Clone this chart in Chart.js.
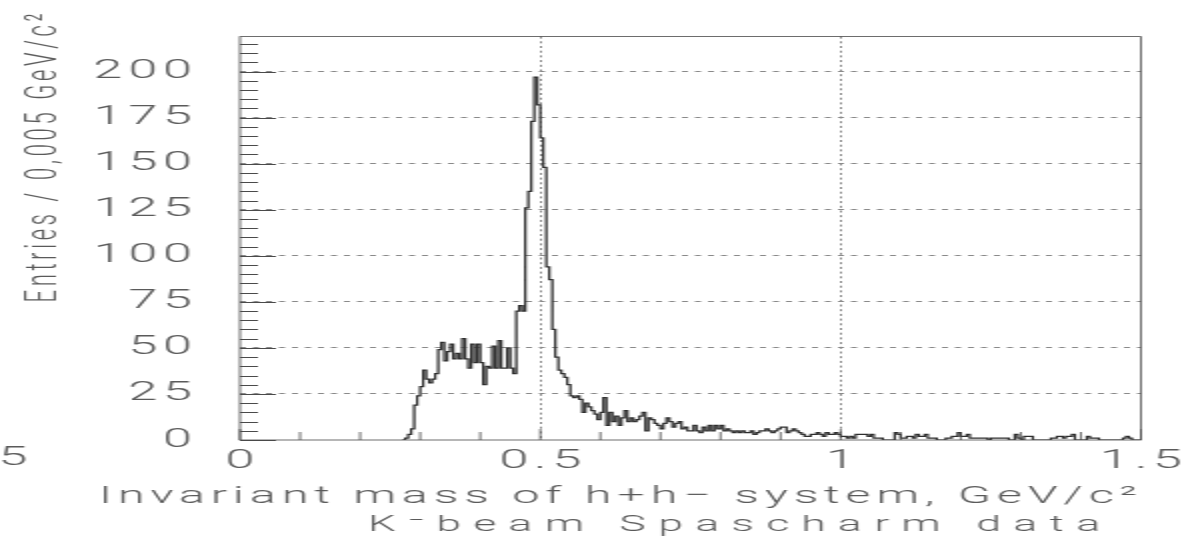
<!DOCTYPE html>
<html>
<head>
<meta charset="utf-8">
<title>Invariant mass of h+h- system</title>
<script src="https://cdn.jsdelivr.net/npm/chart.js@4.4.1/dist/chart.umd.min.js"></script>
<style>
  html, body { margin: 0; padding: 0; background: #ffffff; overflow: hidden; }
  canvas { display: block; }
</style>
</head>
<body>
<!-- drawn at half width and shown twice as wide, which gives the wide PAW-style lettering -->
<canvas id="c" width="599" height="539" style="width:1198px;height:539px"></canvas>
<script>
// ---- histogram data: entries per 0.005 GeV/c^2 bin ----
const binWidth = 0.005;
const firstBinLow = 0.27;          // low edge of the first listed bin; everything below is empty
const counts = [
  0, 1, 3, 6, 19, 24, 29, 38, 33, 31, 33,
  36, 49, 53, 43, 48, 52, 44, 47, 44, 55,
  44, 39, 52, 42, 52, 42, 30, 40, 39, 51,
  39, 54, 39, 39, 50, 39, 36, 70, 73, 70,
  126, 135, 173, 197, 182, 164, 148, 94, 87, 60,
  45, 38, 36, 34, 30, 24, 23, 24, 22, 15,
  20, 18, 16, 14, 11, 15, 23, 8, 15, 10,
  13, 8, 12, 16, 10, 12, 10, 11, 13, 15,
  5, 12, 11, 9, 8, 6, 9, 12, 10, 7,
  9, 10, 6, 7, 5, 5, 8, 5, 4, 7,
  5, 8, 5, 8, 6, 8, 5, 6, 5, 4,
  5, 4, 5, 4, 4, 5, 3, 4, 5, 5,
  6, 5, 4, 5, 6, 7, 7, 4, 5, 6,
  5, 4, 3, 2, 2, 3, 3, 4, 3, 2,
  4, 3, 3, 4, 3,
  2, 2, 1, 2, 1, 3, 3, 3, 3, 2,
  3, 1, 1, 1, 0, 0, 0, 0, 4, 3,
  1, 1, 2, 2, 1, 3, 2, 2, 3, 1,
  1, 1, 0, 0, 0, 1, 1, 2, 2, 4,
  2, 2, 3, 1, 1, 1, 1, 1, 1, 0,
  1, 1, 1, 1, 1, 1, 0, 0, 3, 1,
  0, 2, 2, 2, 0, 0, 0, 0, 0, 0,
  1, 1, 2, 2, 1, 2, 2, 3, 0, 0,
  0, 0, 2, 1, 1, 1, 0, 0, 0, 0,
  0, 0, 0, 0, 1, 2, 1, 0, 0, 0
];

// ---- axes ----
const xMin = 0, xMax = 1.5, xTickStep = 0.1, xLabelStep = 0.5;
const yMin = 0, yMax = 219, yTickStep = 25, yMinorStep = 5;
const xGridAt = [0.5, 1.0];

// ---- texts ----
const xTitle = 'Invariant mass of h+h\u2212 system, GeV/c\u00B2';
const xSubTitle = 'K\u207Bbeam Spascharm data';
const yTitle = 'Entries / 0,005 GeV/c\u00B2';
const strayLabel = '5';

const TEXT_COLOR = '#5a5a5a';
const FONT_FAMILY = 'Roboto, "Liberation Sans", sans-serif';
const TICK_SPACING = '3px';

// step outline: one point on each bin's low edge, plus the closing edge
const points = counts.map((c, i) => ({ x: +(firstBinLow + i * binWidth).toFixed(3), y: c }));
points.push({ x: +(firstBinLow + counts.length * binWidth).toFixed(3), y: counts[counts.length - 1] });

const near = (a, b) => Math.abs(a - b) < 1e-6;

// text drawn with letter spacing chosen so that it spans a given width
function drawSpread(ctx, text, cx, y, width) {
  ctx.letterSpacing = '0px';
  const w0 = ctx.measureText(text).width;
  const n = Array.from(text).length;
  const ls = n > 1 ? Math.max(0, (width - w0) / (n - 1)) : 0;
  ctx.letterSpacing = ls + 'px';
  ctx.fillText(text, cx + ls / 2, y);
  ctx.letterSpacing = '0px';
}

const wideText = {
  id: 'wideText',
  beforeDraw(chart) {
    chart.ctx.letterSpacing = TICK_SPACING;
  },
  afterDraw(chart) {
    const ctx = chart.ctx;
    ctx.save();
    ctx.fillStyle = TEXT_COLOR;
    ctx.textAlign = 'center';
    ctx.textBaseline = 'alphabetic';

    ctx.font = '300 24px ' + FONT_FAMILY;
    drawSpread(ctx, xTitle, 309, 503, 519);

    ctx.font = '300 22px ' + FONT_FAMILY;
    drawSpread(ctx, xSubTitle, 367, 531, 366);

    ctx.save();
    ctx.translate(28, 158);
    ctx.rotate(-Math.PI / 2);
    ctx.font = '300 22px ' + FONT_FAMILY;
    drawSpread(ctx, yTitle, 0, 0, 289);
    ctx.restore();

    ctx.font = '300 26px ' + FONT_FAMILY;
    ctx.textBaseline = 'middle';
    ctx.fillText(strayLabel, 6.5, 458);
    ctx.restore();
    ctx.letterSpacing = '0px';
  }
};

// plot frame and the inward tick marks on both axes
const frameTicks = {
  id: 'frameTicks',
  afterDatasetsDraw(chart) {
    const { ctx, chartArea: a, scales: { x, y } } = chart;
    ctx.save();
    ctx.strokeStyle = '#4a4a4a';
    ctx.lineWidth = 0.8;
    ctx.setLineDash([]);
    ctx.beginPath();
    for (let i = 0; xMin + i * xTickStep <= xMax + 1e-9; i++) {
      const v = xMin + i * xTickStep;
      const px = x.getPixelForValue(v);
      const len = near(v / xLabelStep, Math.round(v / xLabelStep)) ? 11 : 8;
      ctx.moveTo(px, a.bottom);
      ctx.lineTo(px, a.bottom - len);
    }
    ctx.stroke();
    ctx.lineWidth = 1;
    ctx.beginPath();
    for (let i = 0; yMin + i * yMinorStep <= yMax; i++) {
      const v = yMin + i * yMinorStep;
      const py = Math.round(y.getPixelForValue(v)) + 0.5;
      const len = v % yTickStep === 0 ? 18 : 9;
      ctx.moveTo(a.left, py);
      ctx.lineTo(a.left + len, py);
    }
    ctx.stroke();
    ctx.lineWidth = 0.8;
    ctx.strokeRect(a.left, a.top, a.right - a.left, a.bottom - a.top);
    ctx.restore();
  }
};

const tickFont = { family: FONT_FAMILY, size: 26, weight: '300' };

new Chart(document.getElementById('c'), {
  type: 'line',
  data: {
    datasets: [{
      data: points,
      stepped: true,
      borderColor: '#2e2e2e',
      borderWidth: 1.25,
      pointRadius: 0,
      fill: false,
      tension: 0
    }]
  },
  options: {
    responsive: false,
    animation: false,
    devicePixelRatio: 1,
    layout: { padding: { left: 0, right: 28.5, top: 12, bottom: 0 } },
    plugins: { legend: { display: false }, tooltip: { enabled: false } },
    scales: {
      x: {
        type: 'linear',
        min: xMin,
        max: xMax,
        afterFit(s) { s.height = 99; },
        ticks: {
          stepSize: xTickStep,
          autoSkip: false,
          maxRotation: 0,
          minRotation: 0,
          padding: 6,
          labelOffset: 1.5,
          color: TEXT_COLOR,
          font: tickFont,
          callback(v) {
            const h = v / xLabelStep;
            return near(h, Math.round(h)) ? String(Math.round(h) * xLabelStep) : '';
          }
        },
        grid: {
          drawTicks: false,
          lineWidth: 0.75,
          color(c) {
            const v = c.tick ? c.tick.value : NaN;
            return xGridAt.some(g => near(g, v)) ? '#606060' : 'rgba(0,0,0,0)';
          }
        },
        border: { display: false, dash: [2, 2.7] }
      },
      y: {
        min: yMin,
        max: yMax,
        afterFit(s) { s.width = 120; },
        ticks: {
          stepSize: yTickStep,
          includeBounds: false,
          padding: 21,
          color: TEXT_COLOR,
          font: tickFont
        },
        grid: {
          drawTicks: false,
          lineWidth: 1,
          color(c) { return c.tick && c.tick.value > 0 ? '#8a8a8a' : 'rgba(0,0,0,0)'; }
        },
        border: { display: false, dash: [3, 3.5] }
      }
    }
  },
  plugins: [wideText, frameTicks]
});
</script>
</body>
</html>
